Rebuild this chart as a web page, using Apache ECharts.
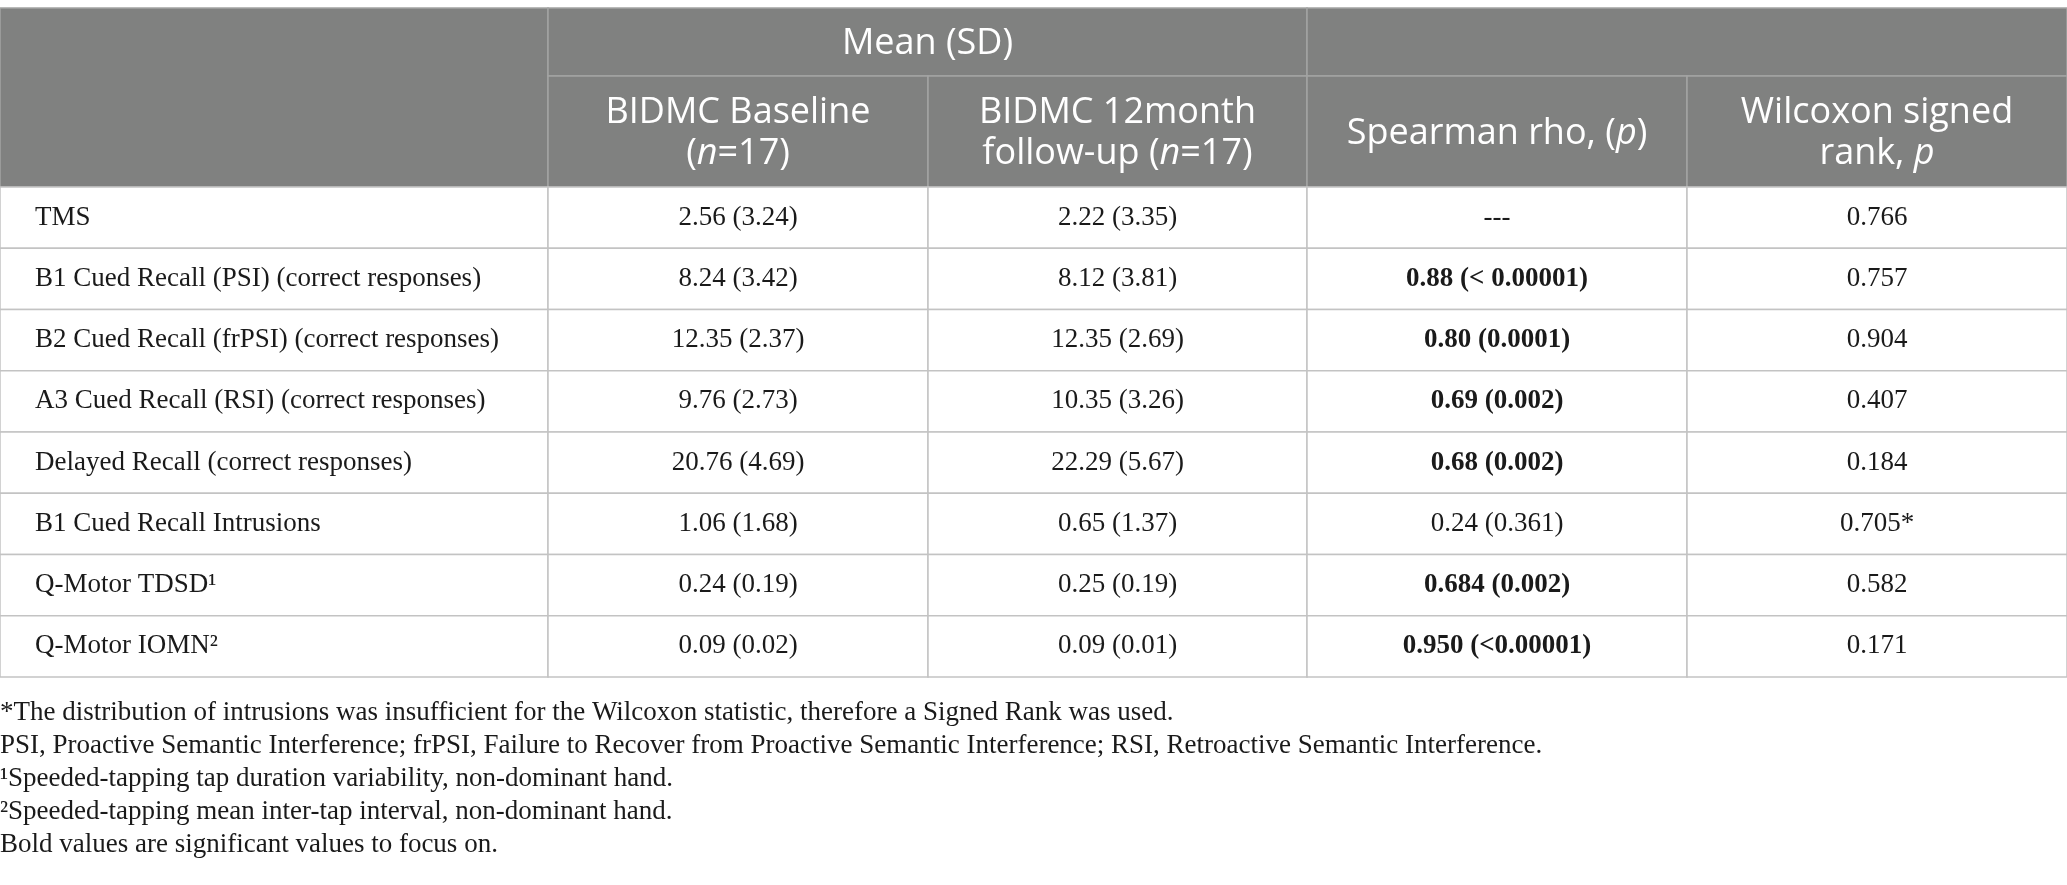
<!DOCTYPE html>
<html>
<head>
<meta charset="utf-8">
<script src="https://cdn.jsdelivr.net/npm/echarts@6/dist/echarts.min.js"></script>
<style>
  html, body { margin: 0; padding: 0; background: #fff; }
  #main { width: 2067px; height: 885px; }
</style>
</head>
<body>
<div id="main"></div>
<script>
// table content
var rowLabels = [
  'TMS',
  'B1 Cued Recall (PSI) (correct responses)',
  'B2 Cued Recall (frPSI) (correct responses)',
  'A3 Cued Recall (RSI) (correct responses)',
  'Delayed Recall (correct responses)',
  'B1 Cued Recall Intrusions',
  'Q-Motor TDSD\u00b9',
  'Q-Motor IOMN\u00b2'
];
var baseline = ['2.56 (3.24)', '8.24 (3.42)', '12.35 (2.37)', '9.76 (2.73)', '20.76 (4.69)', '1.06 (1.68)', '0.24 (0.19)', '0.09 (0.02)'];
var followUp = ['2.22 (3.35)', '8.12 (3.81)', '12.35 (2.69)', '10.35 (3.26)', '22.29 (5.67)', '0.65 (1.37)', '0.25 (0.19)', '0.09 (0.01)'];
var spearman = ['---', '0.88 (< 0.00001)', '0.80 (0.0001)', '0.69 (0.002)', '0.68 (0.002)', '0.24 (0.361)', '0.684 (0.002)', '0.950 (<0.00001)'];
var spearmanBold = [false, true, true, true, true, false, true, true];
var wilcoxon = ['0.766', '0.757', '0.904', '0.407', '0.184', '0.705*', '0.582', '0.171'];

var groupHeader = ['', 'Mean (SD)', ''];
var columnHeader = ['', 'BIDMC Baseline\n({i|n}=17)', 'BIDMC 12month\nfollow-up ({i|n}=17)', 'Spearman rho, ({i|p})', 'Wilcoxon signed\nrank, {i|p}'];

var footnotes = [
  '*The distribution of intrusions was insufficient for the Wilcoxon statistic, therefore a Signed Rank was used.',
  'PSI, Proactive Semantic Interference; frPSI, Failure to Recover from Proactive Semantic Interference; RSI, Retroactive Semantic Interference.',
  '\u00b9Speeded-tapping tap duration variability, non-dominant hand.',
  '\u00b2Speeded-tapping mean inter-tap interval, non-dominant hand.',
  'Bold values are significant values to focus on.'
];

// layout
var colWeights = [548, 380, 379, 380, 380];
var headRowWeights = [68, 111];
var colEdges = [0];
colWeights.forEach(function (w, i) { colEdges.push(colEdges[i] + w); });
var headEdges = [0];
headRowWeights.forEach(function (h, i) { headEdges.push(headEdges[i] + h); });

var serif = '"Liberation Serif", "DejaVu Serif", serif';
var sans = '"Open Sans", "Noto Sans", sans-serif';
var headBg = '#808180';

// body cells: [col, row, text, bold]
var bodyCells = [];
rowLabels.forEach(function (label, r) {
  bodyCells.push([0, r, label, 0]);
  bodyCells.push([1, r, baseline[r], 0]);
  bodyCells.push([2, r, followUp[r], 0]);
  bodyCells.push([3, r, spearman[r], spearmanBold[r] ? 1 : 0]);
  bodyCells.push([4, r, wilcoxon[r], 0]);
});

// header cells: [col0, col1, row0, row1, text]
var headCells = [
  [0, 1, 0, 2, groupHeader[0]],
  [1, 3, 0, 1, groupHeader[1]],
  [3, 5, 0, 1, groupHeader[2]]
];
for (var c = 1; c < columnHeader.length; c++) {
  headCells.push([c, c + 1, 1, 2, columnHeader[c]]);
}

var chartDom = document.getElementById('main');
var myChart = echarts.init(chartDom);
var option;

option = {
  animation: false,
  grid: [
    { left: 0, right: 0, top: 8, height: 179 },
    { left: 0, right: 0, top: 187, height: 490 }
  ],
  xAxis: [
    { gridIndex: 0, type: 'value', min: 0, max: colEdges[colEdges.length - 1], show: false },
    { gridIndex: 1, type: 'value', min: 0, max: colEdges[colEdges.length - 1], show: false }
  ],
  yAxis: [
    { gridIndex: 0, type: 'value', inverse: true, min: 0, max: headEdges[headEdges.length - 1], show: false },
    { gridIndex: 1, type: 'category', inverse: true, data: rowLabels, show: false }
  ],
  series: [
    {
      type: 'custom',
      xAxisIndex: 0,
      yAxisIndex: 0,
      silent: true,
      clip: false,
      data: headCells,
      encode: { x: [0, 1], y: [2, 3] },
      renderItem: function (params, api) {
        var p0 = api.coord([colEdges[api.value(0)], headEdges[api.value(2)]]);
        var p1 = api.coord([colEdges[api.value(1)], headEdges[api.value(3)]]);
        var text = headCells[params.dataIndex][4];
        return {
          type: 'group',
          children: [
            {
              type: 'rect',
              shape: { x: p0[0], y: p0[1], width: p1[0] - p0[0], height: p1[1] - p0[1] },
              style: { fill: headBg, stroke: '#a3a4a3', lineWidth: 1.5 }
            },
            {
              type: 'text',
              style: {
                text: text,
                x: (p0[0] + p1[0]) / 2,
                y: (p0[1] + p1[1]) / 2 + 2,
                align: 'center',
                verticalAlign: 'middle',
                fill: '#ffffff',
                font: '36px ' + sans,
                lineHeight: 41,
                rich: {
                  i: { fontStyle: 'italic', fontSize: 36, fontFamily: sans, fill: '#ffffff', lineHeight: 41 }
                }
              }
            }
          ]
        };
      }
    },
    {
      type: 'custom',
      xAxisIndex: 1,
      yAxisIndex: 1,
      silent: true,
      clip: false,
      data: bodyCells,
      encode: { x: 0, y: 1 },
      renderItem: function (params, api) {
        var col = api.value(0);
        var row = api.value(1);
        var cell = bodyCells[params.dataIndex];
        var h = api.size([0, 1])[1];
        var a = api.coord([colEdges[col], row]);
        var b = api.coord([colEdges[col + 1], row]);
        var top = a[1] - h / 2;
        return {
          type: 'group',
          children: [
            {
              type: 'rect',
              shape: { x: a[0], y: top, width: b[0] - a[0], height: h },
              style: { fill: '#ffffff', stroke: '#c3c3c3', lineWidth: 1.5 }
            },
            {
              type: 'text',
              style: {
                text: cell[2],
                x: col === 0 ? a[0] + 35 : (a[0] + b[0]) / 2,
                y: a[1],
                align: col === 0 ? 'left' : 'center',
                verticalAlign: 'middle',
                fill: '#1a1a1a',
                font: (cell[3] ? 'bold ' : '') + '27px ' + serif
              }
            }
          ]
        };
      }
    }
  ],
  graphic: [
    {
      type: 'text',
      left: 0,
      top: 696,
      silent: true,
      style: {
        text: footnotes.join('\n'),
        fill: '#1a1a1a',
        font: '27px ' + serif,
        lineHeight: 33
      }
    }
  ]
};

option && myChart.setOption(option);
</script>
</body>
</html>
